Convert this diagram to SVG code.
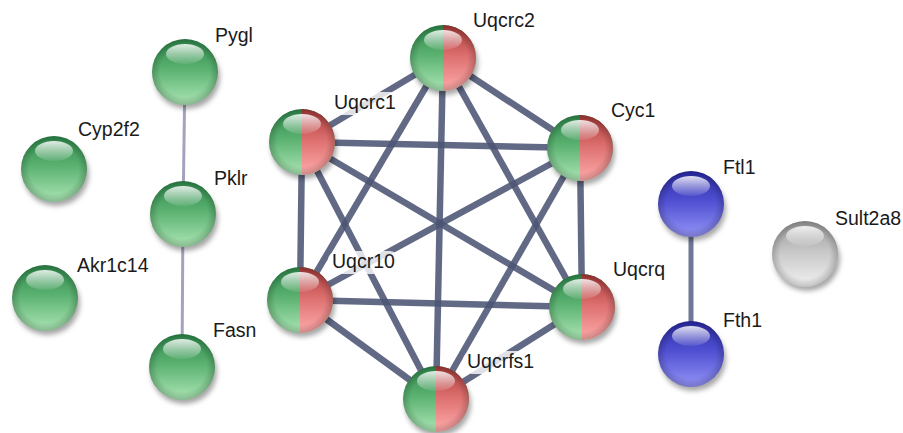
<svg xmlns="http://www.w3.org/2000/svg" xmlns:xlink="http://www.w3.org/1999/xlink" width="903" height="433" viewBox="0 0 903 433">
<style>
.lbl{font-family:"Liberation Sans",Arial,sans-serif;font-size:19.5px;fill:#1a1a1a}
.bg{fill:#ffffff;fill-opacity:0.8}
.e{stroke:#4b5474;stroke-opacity:0.88;stroke-width:6.5;stroke-linecap:butt}
.thin{stroke:#a3a3c0;stroke-width:3}
.mid{stroke:#6f7896;stroke-width:5}
</style>
<defs>
<linearGradient id="gG" x1="0" y1="0" x2="0" y2="1"><stop offset="0" stop-color="#2f8a4c"/><stop offset="0.45" stop-color="#5ab170"/><stop offset="1" stop-color="#ace6b5"/></linearGradient>
<linearGradient id="gR" x1="0" y1="0" x2="0" y2="1"><stop offset="0" stop-color="#a83838"/><stop offset="0.45" stop-color="#dc6d6d"/><stop offset="1" stop-color="#ffabab"/></linearGradient>
<linearGradient id="gB" x1="0" y1="0" x2="0" y2="1"><stop offset="0" stop-color="#2a2aa8"/><stop offset="0.45" stop-color="#4f4fd2"/><stop offset="1" stop-color="#9494f8"/></linearGradient>
<linearGradient id="gW" x1="0" y1="0" x2="0" y2="1"><stop offset="0" stop-color="#9a9a9a"/><stop offset="0.45" stop-color="#c6c6c6"/><stop offset="1" stop-color="#f2f2f2"/></linearGradient>
<radialGradient id="rim" cx="0.5" cy="0.5" r="0.5"><stop offset="0.75" stop-color="#000" stop-opacity="0"/><stop offset="1" stop-color="#000" stop-opacity="0.2"/></radialGradient>
<linearGradient id="hl" x1="0" y1="0" x2="0" y2="1"><stop offset="0" stop-color="#fff" stop-opacity="0.85"/><stop offset="1" stop-color="#fff" stop-opacity="0.08"/></linearGradient>
<filter id="blur" x="-50%" y="-50%" width="200%" height="200%"><feGaussianBlur stdDeviation="2.5"/></filter>
<g id="shadow"><ellipse cx="2" cy="5" rx="33" ry="32" fill="#000" fill-opacity="0.35" filter="url(#blur)"/></g>
<g id="top"><circle r="33" fill="url(#rim)"/><ellipse cy="-18" rx="19" ry="10" fill="url(#hl)"/></g>
<g id="sG"><use xlink:href="#shadow"/><circle r="33" fill="url(#gG)"/><use xlink:href="#top"/></g>
<g id="sB"><use xlink:href="#shadow"/><circle r="33" fill="url(#gB)"/><use xlink:href="#top"/></g>
<g id="sW"><use xlink:href="#shadow"/><circle r="33" fill="url(#gW)"/><use xlink:href="#top"/></g>
<g id="sGR"><use xlink:href="#shadow"/><circle r="33" fill="url(#gG)"/><path d="M0,-33 A33,33 0 0 1 0,33 Z" fill="url(#gR)"/><use xlink:href="#top"/></g>
</defs>
<rect width="903" height="433" fill="#ffffff"/>
<g id="connectors">
<line class="thin" x1="185" y1="72" x2="183" y2="214"/>
<line class="thin" x1="183" y1="214" x2="182" y2="367"/>
<line class="mid" x1="691" y1="204" x2="691" y2="354"/>
<line class="e" x1="443" y1="58" x2="302" y2="142"/>
<line class="e" x1="443" y1="58" x2="580" y2="148"/>
<line class="e" x1="443" y1="58" x2="300" y2="300"/>
<line class="e" x1="443" y1="58" x2="582" y2="307"/>
<line class="e" x1="443" y1="58" x2="436" y2="399"/>
<line class="e" x1="302" y1="142" x2="580" y2="148"/>
<line class="e" x1="302" y1="142" x2="300" y2="300"/>
<line class="e" x1="302" y1="142" x2="582" y2="307"/>
<line class="e" x1="302" y1="142" x2="436" y2="399"/>
<line class="e" x1="580" y1="148" x2="300" y2="300"/>
<line class="e" x1="580" y1="148" x2="582" y2="307"/>
<line class="e" x1="580" y1="148" x2="436" y2="399"/>
<line class="e" x1="300" y1="300" x2="582" y2="307"/>
<line class="e" x1="300" y1="300" x2="436" y2="399"/>
<line class="e" x1="582" y1="307" x2="436" y2="399"/>
</g>
<g id="Pygl"><use xlink:href="#sG" x="185" y="72"/><rect class="bg" x="211" y="25" width="46" height="23" rx="9"/><text class="lbl" x="215" y="42">Pygl</text></g>
<g id="Cyp2f2"><use xlink:href="#sG" x="54" y="169"/><rect class="bg" x="74" y="119" width="70" height="23" rx="9"/><text class="lbl" x="78" y="136">Cyp2f2</text></g>
<g id="Pklr"><use xlink:href="#sG" x="183" y="214"/><rect class="bg" x="210" y="168" width="42" height="23" rx="9"/><text class="lbl" x="214" y="185">Pklr</text></g>
<g id="Akr1c14"><use xlink:href="#sG" x="45" y="298"/><rect class="bg" x="73" y="255" width="80" height="23" rx="9"/><text class="lbl" x="77" y="272">Akr1c14</text></g>
<g id="Fasn"><use xlink:href="#sG" x="182" y="367"/><rect class="bg" x="209" y="320" width="51" height="23" rx="9"/><text class="lbl" x="213" y="337">Fasn</text></g>
<g id="Uqcrc2"><use xlink:href="#sGR" x="443" y="58"/><rect class="bg" x="469" y="10" width="70" height="23" rx="9"/><text class="lbl" x="473" y="27">Uqcrc2</text></g>
<g id="Uqcrc1"><use xlink:href="#sGR" x="302" y="142"/><rect class="bg" x="330" y="92" width="70" height="23" rx="9"/><text class="lbl" x="334" y="109">Uqcrc1</text></g>
<g id="Cyc1"><use xlink:href="#sGR" x="580" y="148"/><rect class="bg" x="607" y="100" width="53" height="23" rx="9"/><text class="lbl" x="611" y="117">Cyc1</text></g>
<g id="Uqcr10"><use xlink:href="#sGR" x="300" y="300"/><rect class="bg" x="328" y="251" width="71" height="23" rx="9"/><text class="lbl" x="332" y="268">Uqcr10</text></g>
<g id="Uqcrq"><use xlink:href="#sGR" x="582" y="307"/><rect class="bg" x="609" y="259" width="61" height="23" rx="9"/><text class="lbl" x="613" y="276">Uqcrq</text></g>
<g id="Uqcrfs1"><use xlink:href="#sGR" x="436" y="399"/><rect class="bg" x="463" y="351" width="75" height="23" rx="9"/><text class="lbl" x="467" y="368">Uqcrfs1</text></g>
<g id="Ftl1"><use xlink:href="#sB" x="691" y="204"/><rect class="bg" x="719" y="157" width="41" height="23" rx="9"/><text class="lbl" x="723" y="174">Ftl1</text></g>
<g id="Fth1"><use xlink:href="#sB" x="691" y="354"/><rect class="bg" x="719" y="310" width="47" height="23" rx="9"/><text class="lbl" x="723" y="327">Fth1</text></g>
<g id="Sult2a8"><use xlink:href="#sW" x="805" y="254"/><rect class="bg" x="831" y="208" width="72" height="23" rx="9"/><text class="lbl" x="835" y="225">Sult2a8</text></g>
</svg>
